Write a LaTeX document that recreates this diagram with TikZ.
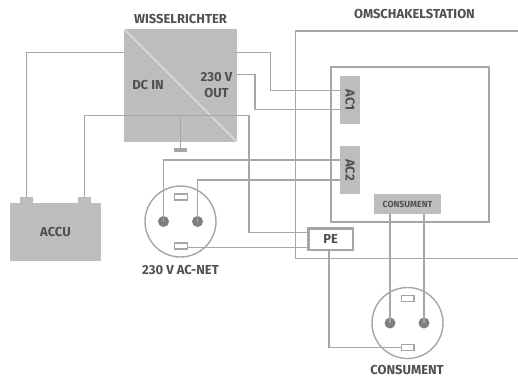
\documentclass[tikz,border=0pt]{standalone}
\usepackage{fontspec}
\setmainfont{Fira Sans}
\definecolor{wire}{HTML}{A6A6A6}
\definecolor{fillbox}{HTML}{BDBDBD}
\definecolor{txt}{HTML}{505050}
\definecolor{pin}{HTML}{7F7F7F}
\tikzset{
  wire/.style={draw=wire,line width=1.5pt},
  block/.style={fill=fillbox,draw=none,inner sep=0pt,outer sep=0pt,font=\fontsize{13}{15}\selectfont\bfseries,text=txt,align=center},
  lbl/.style={inner sep=0pt,outer sep=0pt,font=\fontsize{13}{15.5}\selectfont\bfseries,text=txt,align=center},
  socket/.style={circle,draw=wire,line width=1.4pt,fill=white,minimum size=71pt,inner sep=0pt,outer sep=0pt},
  pinpt/.style={circle,fill=pin,minimum size=11pt,inner sep=0pt,outer sep=0pt},
  slot/.style={rectangle,draw=wire,line width=1.2pt,fill=white,minimum width=12.8pt,minimum height=6pt,inner sep=0pt,outer sep=0pt},
}
\begin{document}
\begin{tikzpicture}[x=1pt,y=-1pt]
\useasboundingbox (0,0) rectangle (518,377);
% frames
\coordinate (stTR) at (518,31);
\coordinate (stTL) at (295.5,31);
\coordinate (stBL) at (295.5,258.7);
\coordinate (stBR) at (518,258.7);
\draw[wire] (stTR) -- (stTL) -- (stBL) -- (stBR);
\node[draw=wire,line width=1.5pt,minimum width=158pt,minimum height=155pt,inner sep=0pt,outer sep=0pt] (inner) at (410,144.5) {};
% blocks
\node[block,minimum width=113pt,minimum height=113pt] (inv) at (180.5,85.5) {};
\draw[white!70!fillbox,line width=0.9pt] (inv.north west) -- (inv.south east);
\node[block,minimum width=91pt,minimum height=58pt] (accu) at (55.5,232) {ACCU};
\node[block,minimum width=13pt,minimum height=6pt] (accuA) at (26.5,200) {};
\node[block,minimum width=13pt,minimum height=6pt] (accuB) at (84.5,200) {};
\node[block,minimum width=20pt,minimum height=48pt] (ac1) at (350,100) {\rotatebox{-90}{AC1}};
\node[block,minimum width=20pt,minimum height=48pt] (ac2) at (350,170) {\rotatebox{-90}{AC2}};
\node[block,minimum width=67pt,minimum height=20pt,font=\fontsize{8.8}{10}\selectfont\bfseries] (cons) at (407.5,204) {CONSUMENT};
% sockets
\node[socket] (sa) at (180.5,221.5) {};
\node[socket] (sb) at (407.5,323) {};
\node[pinpt] (saL) at (163.5,221.5) {};
\node[pinpt] (saR) at (197.5,221.5) {};
\node[pinpt] (sbL) at (390,323) {};
\node[pinpt] (sbR) at (424,323) {};
\node[slot] (saT) at (180.7,197) {};
\node[slot] (saB) at (180.7,246) {};
\node[slot] (sbT) at (407.5,298.7) {};
\node[slot] (sbB) at (407.5,347.3) {};
% PE
\node[draw=wire,line width=2.4pt,fill=white,minimum width=44.3pt,minimum height=21.6pt,inner sep=0pt,outer sep=0pt,font=\fontsize{13}{15}\selectfont\bfseries,text=txt] (pe) at (330.7,239.3) {PE};
% ground
\node[fill=wire,minimum width=13.5pt,minimum height=3.5pt,inner sep=0pt,outer sep=0pt] (gnd) at (180.5,149.8) {};
% wires
\coordinate (dcbus) at (180.5,115.5);
\draw[wire] (inv.west |- 0,52.5) -| (accuA.north);
\draw[wire] (accuB.north) |- (dcbus) -| (249,232.5) -- (pe.west |- 0,232.5);
\draw[wire] (dcbus) -- (gnd.north);
\draw[wire] (inv.east |- 0,52.5) -| (270.5,90.5) -- (ac1.west |- 0,90.5);
\draw[wire] (inv.east |- 0,74.5) -| (255,109.5) -- (ac1.west |- 0,109.5);
\draw[wire] (saL.center) |- (ac2.west |- 0,160);
\draw[wire] (saR.center) |- (ac2.west |- 0,180);
\draw[wire] (saB.east |- 0,247.4) -- (pe.west |- 0,247.4);
\draw[wire] (pe.south -| 329,0) |- (sbB.west);
\draw[wire] (cons.south -| sbL) -- (sbL.center);
\draw[wire] (cons.south -| sbR) -- (sbR.center);
% labels
\node[lbl] (tInv) at (180.5,18.5) {WISSELRICHTER};
\node[lbl] (tSt) at (414.5,13.5) {OMSCHAKELSTATION};
\node[lbl] (tDc) at (148,84.5) {DC IN};
\node[lbl] (tOut) at (216.5,85) {230 V\\OUT};
\node[lbl] (tNet) at (180.5,269.5) {230 V AC-NET};
\node[lbl] (tCons) at (407,369.8) {CONSUMENT};
\end{tikzpicture}
\end{document}
